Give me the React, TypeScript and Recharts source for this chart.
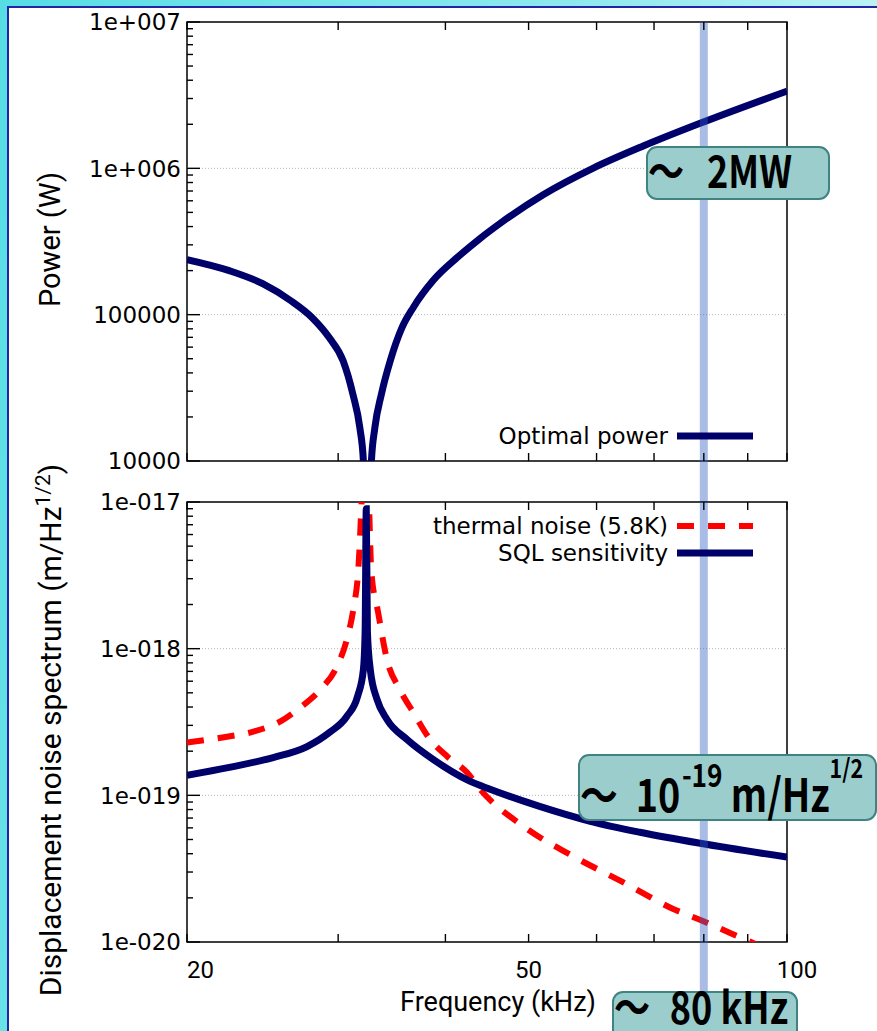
import React from "react";
import { LineChart, Line, XAxis, YAxis, ReferenceLine, ReferenceArea, Legend } from "recharts";

// values (frequency in kHz)
const powerFreq = [20, 22.4, 24.5, 26.4, 28.0, 29.3, 30.4, 31.2, 31.8, 32.1, 32.45, 32.8, 33.1, 33.7, 34.5, 35.6, 36.7, 38.7, 41.3, 43.9, 46.3, 52.0, 59.4, 68.0, 79.2, 100];
const powerW = [2.38e5, 2.0e5, 1.63e5, 1.25e5, 9.5e4, 6.95e4, 4.84e4, 2.88e4, 1.68e4, 1.0e4, 1.5e3, 1.0e4, 1.68e4, 2.88e4, 4.84e4, 8.15e4, 1.12e5, 1.71e5, 2.46e5, 3.32e5, 4.2e5, 6.6e5, 1.0e6, 1.42e6, 2.03e6, 3.37e6];

const thermalFreq = [20, 22.0, 23.9, 25.7, 27.1, 28.6, 29.9, 30.7, 31.2, 31.6, 32.35, 32.8, 33.4, 34.2, 35.4, 36.7, 38.4, 40.2, 42.4, 43.9, 49.3, 56.3, 64.4, 73.7, 79.8, 86.5, 100];
const thermalNoise = [2.29e-19, 2.48e-19, 2.72e-19, 3.19e-19, 3.97e-19, 5.26e-19, 7.55e-19, 1.15e-18, 1.76e-18, 2.95e-18, 3e-17, 3.29e-18, 1.76e-18, 8.4e-19, 5.26e-19, 3.67e-19, 2.4e-19, 1.84e-19, 1.43e-19, 1.1e-19, 6.15e-20, 3.85e-20, 2.56e-20, 1.68e-20, 1.39e-20, 1.13e-20, 7.8e-21];

const sqlFreq = [20, 22.4, 25.2, 27.6, 29.3, 30.7, 31.6, 32.1, 32.25, 32.35, 32.45, 32.7, 33.3, 34.2, 36.1, 38.7, 42.7, 45.1, 51.5, 59.0, 67.4, 79.2, 100];
const sqlNoise = [1.37e-19, 1.55e-19, 1.81e-19, 2.15e-19, 2.68e-19, 3.45e-19, 4.72e-19, 7.2e-19, 1.3e-18, 9e-18, 1.3e-18, 7.2e-19, 4.5e-19, 3.29e-19, 2.4e-19, 1.76e-19, 1.25e-19, 1.1e-19, 8.4e-20, 6.65e-20, 5.6e-20, 4.71e-20, 3.79e-20];

const freqTicks = [20, 30, 40, 50, 60, 70, 80, 90, 100];
const freqLabels = ["20", "", "", "50", "", "", "", "", "100"];
const powerDecades = [1e4, 1e5, 1e6, 1e7];
const powerLabels = ["10000", "100000", "1e+006", "1e+007"];
const noiseDecades = [1e-20, 1e-19, 1e-18, 1e-17];
const noiseLabels = ["1e-020", "1e-019", "1e-018", "1e-017"];
const legendOrder = ["Optimal power", "thermal noise (5.8K)", "SQL sensitivity"];

// highlighted frequency and how far the band runs past each panel
const markFreq = 80;
const bandPower = [1e7, 5.2e3];
const bandNoise = [1e-17, 4.4e-21];

const NAVY = "#00006b";
const RED = "#ff0000";
const BAND = "rgba(48, 96, 192, 0.42)";
const TICK_FONT = "'DejaVu Sans', Verdana, sans-serif";
const TITLE_FONT = "Roboto, sans-serif";

const powerData = powerFreq.map((f, i) => ({ f, p: powerW[i] }));
const thermalData = thermalFreq.map((f, i) => ({ f, n: thermalNoise[i] }));
const sqlData = sqlFreq.map((f, i) => ({ f, n: sqlNoise[i] }));

const logTicks = (decades: number[]) => {
  const out: number[] = [];
  decades.forEach((d, i) => {
    out.push(d);
    if (i < decades.length - 1) for (let k = 2; k < 10; k++) out.push(d * k);
  });
  return out;
};

const findIdx = (arr: number[], v: number) => arr.findIndex((d) => Math.abs(v / d - 1) < 1e-6);

const yTick = (decades: number[], labels: string[]) => (props: any) => {
  const { x, y, payload } = props;
  const i = findIdx(decades, payload.value);
  return (
    <g>
      <line x1={x} x2={x + (i >= 0 ? 13 : 6)} y1={y} y2={y} stroke="#000" strokeWidth={1.4} />
      {i >= 0 && (
        <text x={x - 6} y={y} dy="0.36em" textAnchor="end" fontSize={23} fontFamily={TICK_FONT} fill="#000">
          {labels[i]}
        </text>
      )}
    </g>
  );
};

// ticks point into the plot: dir -1 on the bottom edge, +1 on the top edge
const xTick = (dir: number, withLabels: boolean) => (props: any) => {
  const { x, y, payload } = props;
  const i = findIdx(freqTicks, payload.value);
  const label = withLabels && i >= 0 ? freqLabels[i] : "";
  const last = i === freqTicks.length - 1;
  return (
    <g>
      <line x1={x} x2={x} y1={y} y2={y + dir * 8} stroke="#000" strokeWidth={1.4} />
      {label && (
        <text x={x + (last ? 10 : 0)} y={y + 36} textAnchor={i === 0 ? "start" : "middle"} fontSize={24} fontFamily={TITLE_FONT} fill="#000">
          {label}
        </text>
      )}
    </g>
  );
};

const legendContent = (props: any) => {
  const items = [...(props.payload || [])].sort((a: any, b: any) => legendOrder.indexOf(a.value) - legendOrder.indexOf(b.value));
  return (
    <div style={{ fontFamily: TICK_FONT, fontSize: 23, color: "#000" }}>
      {items.map((e: any) => (
        <div key={e.value} style={{ display: "flex", justifyContent: "flex-end", alignItems: "center", height: 27 }}>
          <span style={{ marginRight: 9, lineHeight: "27px" }}>{e.value}</span>
          <svg width={76} height={10} style={{ display: "block" }}>
            <line x1={0} x2={76} y1={5} y2={5} stroke={e.color} strokeWidth={e.payload?.strokeWidth} strokeDasharray={e.payload?.strokeDasharray} />
          </svg>
        </div>
      ))}
    </div>
  );
};

const boxBase: React.CSSProperties = {
  position: "absolute",
  boxSizing: "border-box",
  background: "#9acdcc",
  border: "2px solid #3f8382",
  borderRadius: 11,
  whiteSpace: "nowrap",
  fontFamily: "'Noto Sans CJK JP', sans-serif",
  fontWeight: 700,
  color: "#000",
};

const boxText = (top: number, size: number): React.CSSProperties => ({
  position: "absolute",
  left: 0,
  top,
  fontSize: size,
  lineHeight: `${size}px`,
  transform: "scaleX(0.82)",
  transformOrigin: "0 0",
});

const freqAxis = { dataKey: "f", type: "number" as const, scale: "log" as const, domain: [20, 100], allowDataOverflow: true, ticks: freqTicks, interval: 0, height: 1, tickSize: 0, tickMargin: 0, axisLine: false, tickLine: false };

export default function App() {
  return (
    <div style={{ position: "absolute", left: 0, top: 0, width: 877, height: 1031, overflow: "hidden", background: "linear-gradient(100deg, #56dde4 0%, #8fe9ee 55%, #d4f7f8 100%)" }}>
      <div style={{ position: "absolute", left: 7, top: 6, width: 900, height: 1100, background: "#fff", borderLeft: "2px solid #2323a6", borderTop: "2px solid #2323a6" }} />

      <div style={{ position: "absolute", left: 0, top: 0 }}>
        <LineChart width={877} height={510} data={powerData} margin={{ top: 21, right: 90, bottom: 48, left: 186 }}>
          <XAxis {...freqAxis} tick={xTick(-1, false)} />
          <XAxis {...freqAxis} xAxisId="top" orientation="top" tick={xTick(1, false)} />
          <YAxis
            type="number"
            scale="log"
            domain={[1e4, 1e7]}
            allowDataOverflow
            ticks={logTicks(powerDecades)}
            interval={0}
            width={1}
            tickSize={0}
            tickMargin={0}
            axisLine={false}
            tickLine={false}
            tick={yTick(powerDecades, powerLabels)}
            label={{
              content: (p: any) => {
                const vb = p.viewBox;
                return (
                  <text transform={`translate(${vb.x - 136}, ${vb.y + vb.height / 2 - 2}) rotate(-90)`} textAnchor="middle" dy="0.35em" fontSize={29} fontFamily={TITLE_FONT} fill="#000">
                    Power (W)
                  </text>
                );
              },
            }}
          />
          {[1e5, 1e6].map((v) => (
            <ReferenceLine key={v} y={v} stroke="#b5b5b5" strokeDasharray="1 2" />
          ))}
          <ReferenceArea x1={20} x2={100} y1={1e4} y2={1e7} fill="none" stroke="#000" strokeWidth={1.5} ifOverflow="visible" />
          <Line dataKey="p" name="Optimal power" type="monotone" stroke={NAVY} strokeWidth={7} dot={false} activeDot={false} isAnimationActive={false} />
          <ReferenceLine segment={[{ x: markFreq, y: bandPower[0] }, { x: markFreq, y: bandPower[1] }]} stroke={BAND} strokeWidth={8} ifOverflow="visible" />
          <Legend content={legendContent} layout="vertical" align="center" verticalAlign="middle" wrapperStyle={{ left: 400, top: 422.5, width: 353 }} />
        </LineChart>
      </div>

      <div style={{ position: "absolute", left: 0, top: 440 }}>
        <LineChart width={877} height={591} margin={{ top: 61, right: 90, bottom: 88, left: 186 }}>
          <XAxis
            {...freqAxis}
            tick={xTick(-1, true)}
            label={{
              content: (p: any) => {
                const vb = p.viewBox;
                return (
                  <text x={vb.x + vb.width / 2 + 11} y={vb.y + 69} textAnchor="middle" fontSize={27} fontFamily={TITLE_FONT} fill="#000">
                    Frequency (kHz)
                  </text>
                );
              },
            }}
          />
          <XAxis {...freqAxis} xAxisId="top" orientation="top" tick={xTick(1, false)} />
          <YAxis
            type="number"
            scale="log"
            domain={[1e-20, 1e-17]}
            allowDataOverflow
            ticks={logTicks(noiseDecades)}
            interval={0}
            width={1}
            tickSize={0}
            tickMargin={0}
            axisLine={false}
            tickLine={false}
            tick={yTick(noiseDecades, noiseLabels)}
            label={{
              content: (p: any) => {
                const vb = p.viewBox;
                return (
                  <text transform={`translate(${vb.x - 136}, ${vb.y + vb.height / 2 + 8}) rotate(-90)`} textAnchor="middle" dy="0.35em" fontSize={30} fontFamily={TITLE_FONT} fill="#000">
                    Displacement noise spectrum (m/Hz
                    <tspan dy={-11} fontSize={21}>1/2</tspan>
                    <tspan dy={11}>)</tspan>
                  </text>
                );
              },
            }}
          />
          {[1e-19, 1e-18].map((v) => (
            <ReferenceLine key={v} y={v} stroke="#b5b5b5" strokeDasharray="1 2" />
          ))}
          <ReferenceArea x1={20} x2={100} y1={1e-20} y2={1e-17} fill="none" stroke="#000" strokeWidth={1.5} ifOverflow="visible" />
          <Line data={thermalData} dataKey="n" name="thermal noise (5.8K)" type="monotone" stroke={RED} strokeWidth={6} strokeDasharray="17 14" dot={false} activeDot={false} isAnimationActive={false} />
          <Line data={sqlData} dataKey="n" name="SQL sensitivity" type="monotone" stroke={NAVY} strokeWidth={7} dot={false} activeDot={false} isAnimationActive={false} />
          <ReferenceLine segment={[{ x: markFreq, y: bandNoise[0] }, { x: markFreq, y: bandNoise[1] }]} stroke={BAND} strokeWidth={8} ifOverflow="visible" />
          <Legend content={legendContent} layout="vertical" align="center" verticalAlign="middle" wrapperStyle={{ left: 400, top: 72.5, width: 353 }} />
        </LineChart>
      </div>

      <div style={{ ...boxBase, left: 646, top: 146, width: 184, height: 54 }}>
        <div style={boxText(-1, 44)}>
          ～<span style={{ marginLeft: 28 }}>2MW</span>
        </div>
      </div>

      <div style={{ ...boxBase, left: 578, top: 754, width: 299, height: 67 }}>
        <div style={boxText(13, 46)}>
          ～<span style={{ marginLeft: 22 }}>10</span>
          <span style={{ fontSize: 32, position: "relative", top: -25, marginLeft: 2 }}>-19</span>
          <span style={{ marginLeft: 10 }}>m/Hz</span>
          <span style={{ fontSize: 26, position: "relative", top: -34 }}>1/2</span>
        </div>
      </div>

      <div style={{ ...boxBase, left: 612, top: 991, width: 186, height: 40, borderBottom: "none", borderBottomLeftRadius: 0, borderBottomRightRadius: 0 }}>
        <div style={boxText(-10, 44)}>
          ～<span style={{ marginLeft: 24 }}>80</span>
          <span style={{ marginLeft: 10 }}>kHz</span>
        </div>
      </div>
    </div>
  );
}
